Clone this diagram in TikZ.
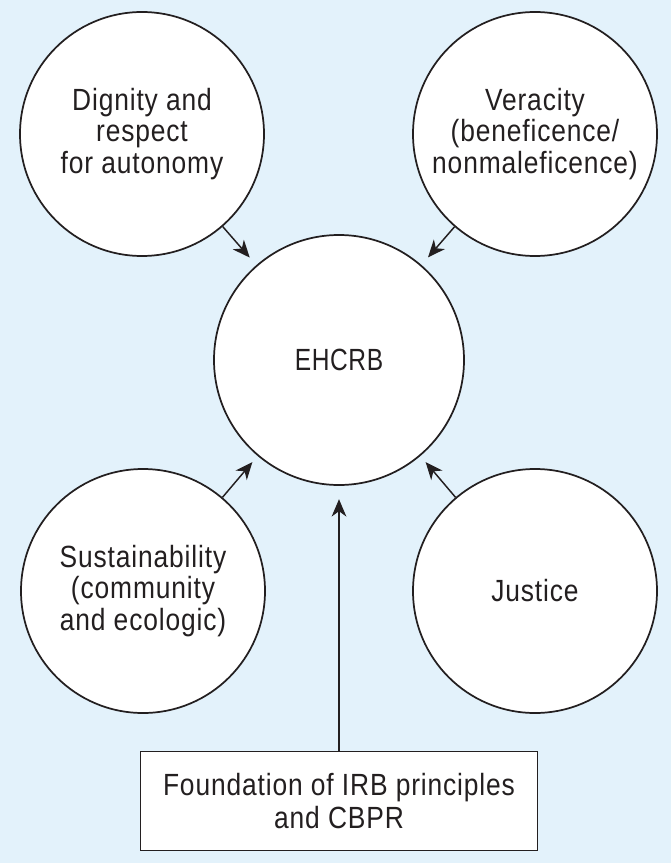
\documentclass[tikz,border=0pt]{standalone}
\usepackage{fontspec}
\setmainfont{Liberation Sans}[FakeStretch=0.86,LetterSpace=2.8]
\newfontfamily\capsfont{Liberation Sans}[FakeStretch=0.8,LetterSpace=2]
\usetikzlibrary{arrows.meta}
\definecolor{bgblue}{HTML}{E3F2FB}
\definecolor{ink}{HTML}{231F20}
\begin{document}
\begin{tikzpicture}[x=0.75pt,y=-0.75pt,
  every node/.style={text=ink},
  bubble/.style={circle,draw=ink,line width=1.3pt,fill=white,align=center,inner sep=0pt,
    font=\fontsize{23}{23.5}\selectfont},
  basebox/.style={rectangle,draw=ink,line width=1.1pt,fill=white,align=center,
    minimum width=298pt,minimum height=74pt,font=\fontsize{23}{24.8}\selectfont},
  link/.style={draw=ink,line width=1.1pt,-{Stealth[length=13pt,width=11pt,inset=4pt]}}]
\fill[bgblue] (0,0) rectangle (671,863);
\useasboundingbox (0,0) rectangle (671,863);
\node[bubble,minimum size=183pt] (tl) at (142,134) {Dignity and\\respect\\for autonomy};
\node[bubble,minimum size=183pt] (tr) at (535,134) {Veracity\\(beneficence/\\nonmaleficence)};
\node[bubble,minimum size=187.5pt] (c) at (339,360) {\capsfont EHCRB};
\node[bubble,minimum size=183pt] (bl) at (143,591) {Sustainability\\(community\\and ecologic)};
\node[bubble,minimum size=183pt] (br) at (535,591) {Justice};
\node[basebox] (b) at (339,801) {Foundation of IRB principles\\and CBPR};
\draw[link,shorten >=7.5pt] (tl) -- (c);
\draw[link,shorten >=7.5pt] (tr) -- (c);
\draw[link,shorten >=6pt] (bl) -- (c);
\draw[link,shorten >=6pt] (br) -- (c);
\draw[link,shorten >=10pt] (b.north) -- (c.south);
\end{tikzpicture}
\end{document}
